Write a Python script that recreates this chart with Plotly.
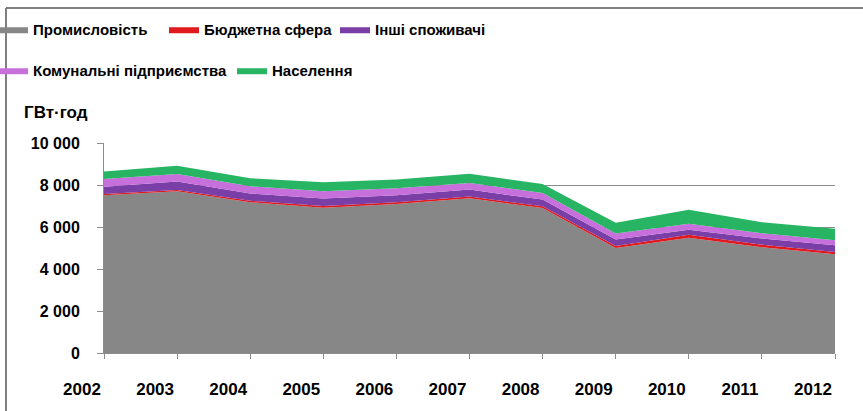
import plotly.graph_objects as go

years = [2002, 2003, 2004, 2005, 2006, 2007, 2008, 2009, 2010, 2011, 2012]
year_labels = [str(y) for y in years]

industry = [7510, 7700, 7180, 6920, 7100, 7370, 6900, 5000, 5490, 5040, 4700]
budget = [65, 60, 70, 75, 75, 80, 85, 100, 140, 120, 110]
other = [345, 410, 350, 360, 340, 330, 320, 300, 235, 290, 320]
communal = [365, 350, 340, 350, 330, 320, 310, 290, 285, 250, 235]
population = [355, 400, 380, 425, 415, 430, 435, 510, 670, 530, 555]

series = [
    ("Промисловість", industry, "#878787", "legend"),
    ("Бюджетна сфера", budget, "#e0191e", "legend"),
    ("Інші споживачі", other, "#7a3fa6", "legend"),
    ("Комунальні підприємства", communal, "#c76fdb", "legend2"),
    ("Населення", population, "#27b564", "legend2"),
]

W, H = 863, 411
L, R, T, B = 104, 28, 143, 58
pw, ph = W - L - R, H - T - B

def px_x(px):
    return (px - L) / pw

def px_y(py):
    return (H - B - py) / ph

fig = go.Figure()
for name, vals, color, lg in series:
    fig.add_trace(go.Scatter(
        x=years, y=vals, name=name, stackgroup="one",
        mode="lines", line=dict(width=0, color=color),
        fillcolor=color, legend=lg,
    ))

tick_font = dict(family="Arial, Liberation Sans, sans-serif", size=16, color="black", weight="bold")
leg_font = dict(family="Arial, Liberation Sans, sans-serif", size=15, color="black", weight="bold")

frame = dict(color="#7f7f7f", width=2)

fig.update_layout(
    width=W, height=H,
    margin=dict(l=L, r=R, t=T, b=B, autoexpand=False),
    paper_bgcolor="white", plot_bgcolor="white",
    separators=", ",
    showlegend=True,
    legend=dict(orientation="h", x=px_x(-7), y=px_y(13), xanchor="left", yanchor="top",
                entrywidth=126, entrywidthmode="pixels", font=leg_font,
                bgcolor="rgba(0,0,0,0)", traceorder="normal"),
    legend2=dict(orientation="h", x=px_x(-7), y=px_y(54), xanchor="left", yanchor="top",
                 font=leg_font, bgcolor="rgba(0,0,0,0)", traceorder="normal"),
    xaxis=dict(
        range=[2002, 2012], tickmode="array", tickvals=years, ticktext=year_labels,
        showgrid=False, zeroline=False, showline=True, linecolor="#8c8c8c", linewidth=1,
        ticks="outside", ticklen=5, tickcolor="#8c8c8c",
        tickfont=dict(family="Arial, Liberation Sans, sans-serif", size=17, color="black", weight="bold"),
        ticklabelshift=-22, ticklabelstandoff=16,
    ),
    yaxis=dict(
        range=[0, 10000], tickvals=[0, 2000, 4000, 6000, 8000, 10000], tickformat=",d",
        showgrid=True, gridcolor="#8c8c8c", gridwidth=1, zeroline=False,
        showline=True, linecolor="#8c8c8c", linewidth=1,
        ticks="outside", ticklen=6, tickcolor="#8c8c8c",
        tickfont=tick_font, ticklabelstandoff=14,
    ),
    shapes=[
        dict(type="line", xref="paper", yref="paper", x0=px_x(6), x1=px_x(W), y0=px_y(8), y1=px_y(8), line=frame),
        dict(type="line", xref="paper", yref="paper", x0=px_x(6), x1=px_x(6), y0=px_y(8), y1=px_y(H), line=frame),
    ],
    annotations=[dict(text="ГВт·год", xref="paper", yref="paper", x=px_x(22), y=px_y(112),
                      xanchor="left", yanchor="middle", showarrow=False,
                      font=dict(family="Arial, Liberation Sans, sans-serif", size=17, color="black", weight="bold"))],
)

fig.write_html("out.html", config={"displayModeBar": False},
               post_script="document.body.style.margin='0';")
